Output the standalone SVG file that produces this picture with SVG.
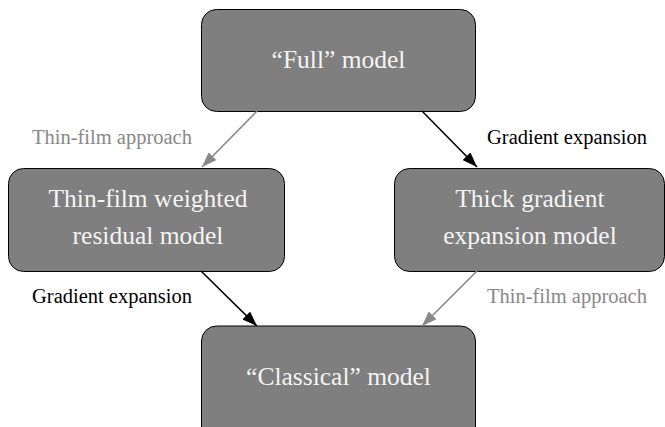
<svg xmlns="http://www.w3.org/2000/svg" width="665" height="427" viewBox="0 0 665 427">
<style>
.box{fill:#7f7f7f;stroke:#000;stroke-width:1}
.bt{fill:#f4f4f4;text-anchor:middle}
.blk{stroke:#000;stroke-width:1.6;fill:none}
.gry{stroke:#888;stroke-width:1.6;fill:none}
</style>
<defs>
<marker id="ab" viewBox="0 0 15 11" refX="15" refY="5.5" markerWidth="15" markerHeight="11" markerUnits="userSpaceOnUse" orient="auto"><path d="M0,0 L15,5.5 L0,11 Z" fill="#000"/></marker>
<marker id="ag" viewBox="0 0 15 11" refX="15" refY="5.5" markerWidth="15" markerHeight="11" markerUnits="userSpaceOnUse" orient="auto"><path d="M0,0 L15,5.5 L0,11 Z" fill="#888"/></marker>
</defs>
<g id="full"><rect class="box" x="201.5" y="9.5" width="274" height="102" rx="15"/><text class="bt" x="338.5" y="68" font-family="Liberation Serif" font-size="25.5">“Full” model</text></g>
<g id="thinfilm"><rect class="box" x="8.5" y="168.5" width="276" height="103" rx="15"/><text class="bt" x="148" y="207" font-family="Liberation Serif" font-size="25.5">Thin-film weighted</text><text class="bt" x="148" y="244" font-family="Liberation Serif" font-size="25.5">residual model</text></g>
<g id="thick"><rect class="box" x="394.5" y="168.5" width="270" height="103" rx="15"/><text class="bt" x="530" y="207" font-family="Liberation Serif" font-size="25.5">Thick gradient</text><text class="bt" x="530" y="244" font-family="Liberation Serif" font-size="25.5">expansion model</text></g>
<g id="classical"><rect class="box" x="201.5" y="326" width="274" height="120" rx="15"/><text class="bt" x="338.5" y="385" font-family="Liberation Serif" font-size="25.5">“Classical” model</text></g>
<g id="connectors">
<line class="gry" x1="257" y1="111" x2="202" y2="167" marker-end="url(#ag)"/>
<line class="blk" x1="422" y1="111" x2="477" y2="167" marker-end="url(#ab)"/>
<line class="blk" x1="201" y1="271" x2="257" y2="326" marker-end="url(#ab)"/>
<line class="gry" x1="477" y1="271" x2="422" y2="326" marker-end="url(#ag)"/>
<text x="32" y="144" fill="#888" font-family="Liberation Serif" font-size="20.5">Thin-film approach</text>
<text x="487" y="144" fill="#000" font-family="Liberation Serif" font-size="20.5">Gradient expansion</text>
<text x="32" y="303" fill="#000" font-family="Liberation Serif" font-size="20.5">Gradient expansion</text>
<text x="487" y="303" fill="#888" font-family="Liberation Serif" font-size="20.5">Thin-film approach</text>
</g>
</svg>
